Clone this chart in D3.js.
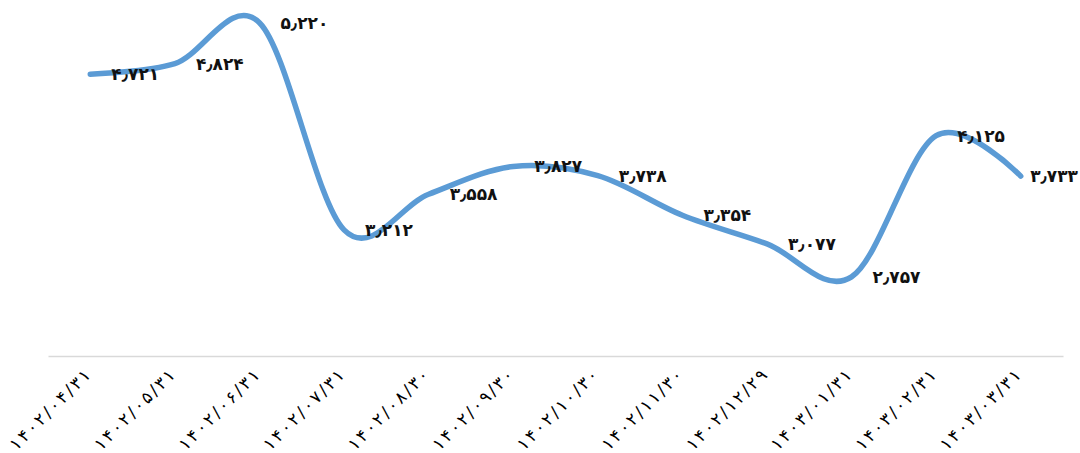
<!DOCTYPE html>
<html>
<head>
<meta charset="utf-8">
<script src="https://cdn.jsdelivr.net/npm/d3@7"></script>
<style>
  body { margin: 0; background: #fff; }
  svg { display: block; }
</style>
</head>
<body>
<div id="chart"></div>
<script>
// Dates (Persian calendar) and values
const dates = ['۱۴۰۲/۰۴/۳۱', '۱۴۰۲/۰۵/۳۱', '۱۴۰۲/۰۶/۳۱', '۱۴۰۲/۰۷/۳۱', '۱۴۰۲/۰۸/۳۰', '۱۴۰۲/۰۹/۳۰',
  '۱۴۰۲/۱۰/۳۰', '۱۴۰۲/۱۱/۳۰', '۱۴۰۲/۱۲/۲۹', '۱۴۰۳/۰۱/۳۱', '۱۴۰۳/۰۲/۳۱', '۱۴۰۳/۰۳/۳۱']
const values = [4.721, 4.824, 5.220, 3.212, 3.558, 3.827, 3.738, 3.354, 3.077, 2.757, 4.125, 3.733]

const width = 1080,
  height = 453,
  left = 48,
  right = 1063,
  axisY = 356

const faDigits = '۰۱۲۳۴۵۶۷۸۹'
const toFa = s => s.replace(/[0-9]/g, d => faDigits[+d]).replace('.', '٫')

let svg = d3.select('#chart')
  .append('svg')
  .attr('width', width)
  .attr('height', height)

const x = d3.scaleBand()
  .domain(dates)
  .range([left, right])

const y = d3.scaleLinear()
  .domain([2, 5.5])
  .range([axisY - 1, axisY - 1 - 3.5 * 103.2])

const cx = d => x(d) + x.bandwidth() / 2

// category axis
let xAxis = svg.append('g')
  .attr('transform', `translate(0, ${axisY})`)
  .call(d3.axisBottom(x).tickSize(0).tickPadding(0))

xAxis.select('.domain')
  .attr('stroke', '#d9d9d9')
  .attr('stroke-width', 1.5)

xAxis.selectAll('text')
  .attr('font-family', 'DejaVu Sans')
  .attr('font-size', 17)
  .attr('fill', '#000')
  .attr('text-anchor', 'end')
  .attr('y', 0)
  .attr('dy', '0.35em')
  .attr('textLength', 106)
  .attr('lengthAdjust', 'spacing')
  .attr('transform', 'translate(-3, 16) rotate(-45)')

// the line
const line = d3.line()
  .x((d, i) => cx(dates[i]))
  .y(d => y(d))
  .curve(d3.curveCardinal.tension(0))

svg.append('path')
  .datum(values)
  .attr('d', line)
  .attr('fill', 'none')
  .attr('stroke', '#5b9bd5')
  .attr('stroke-width', 5.5)
  .attr('stroke-linecap', 'round')

// value labels, right of each point, kept inside the picture
svg.selectAll('.lbl')
  .data(values)
  .enter()
  .append('text')
  .attr('class', 'lbl')
  .attr('x', (d, i) => cx(dates[i]) + 21)
  .attr('y', d => y(d))
  .attr('dy', '0.35em')
  .attr('font-family', 'DejaVu Sans')
  .attr('font-weight', 'bold')
  .attr('font-size', 17)
  .attr('fill', '#111')
  .text(d => toFa(d.toFixed(3)))
  .each(function () {
    const t = d3.select(this)
    const w = this.getComputedTextLength()
    const x0 = +t.attr('x')
    if (x0 + w > width - 2) t.attr('x', width - 2 - w)
  })
</script>
</body>
</html>
